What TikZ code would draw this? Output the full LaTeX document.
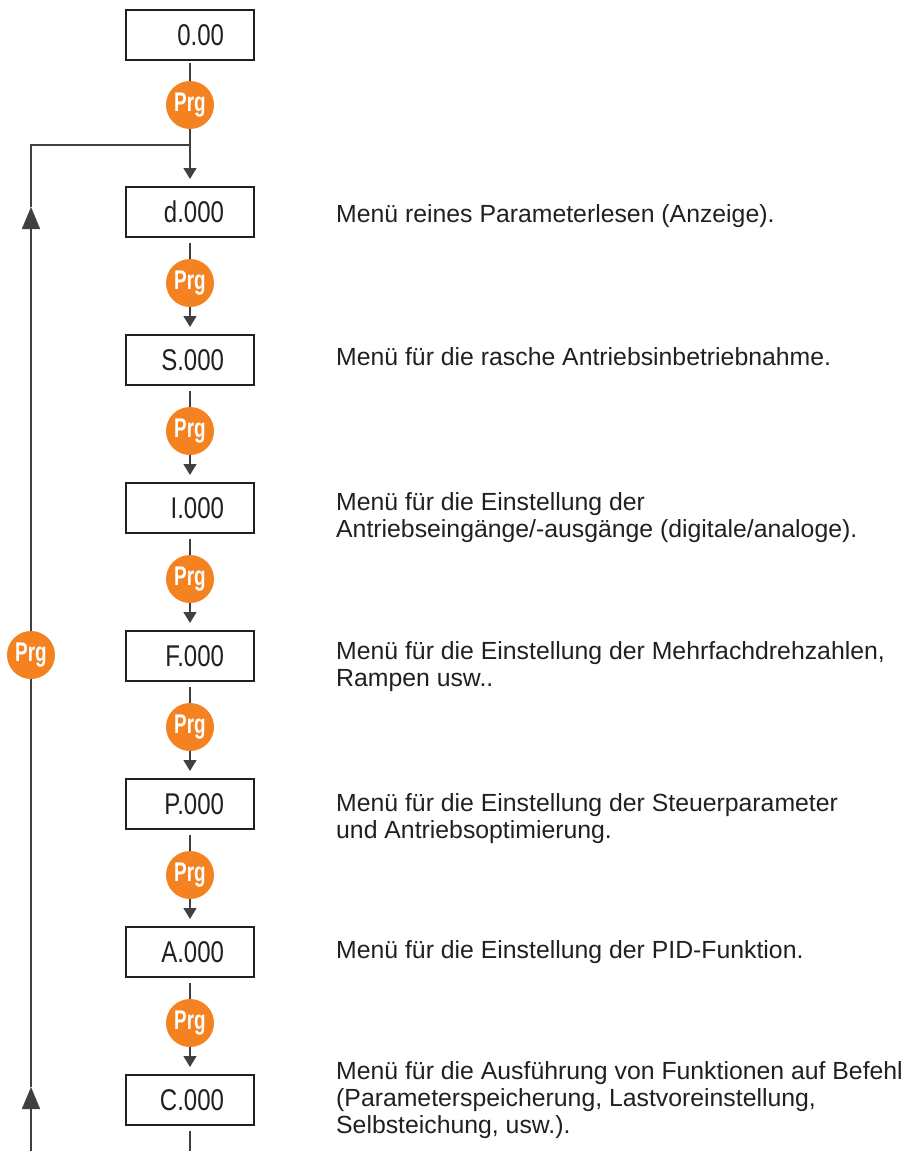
\documentclass[tikz,border=0pt]{standalone}
\usepackage{fontspec}
\setmainfont{Liberation Sans}
\newfontfamily\lcdfont[FakeStretch=0.8]{Liberation Sans}
\newfontfamily\prgfont[FakeStretch=0.7]{Liberation Sans}
\usetikzlibrary{arrows.meta, positioning}
\definecolor{prgorange}{RGB}{245,130,32}
\definecolor{ink}{RGB}{35,31,32}

\begin{document}
\begin{tikzpicture}[x=1pt, y=-1pt, every node/.style={text=ink},
  box/.style={draw=ink, line width=1.3pt, outer sep=0pt, minimum height=50pt, text width=68pt, inner xsep=30pt, inner ysep=0pt, align=right, font=\lcdfont\fontsize{30}{30}\selectfont},
  prg/.style={circle, fill=prgorange, outer sep=0pt, minimum size=48pt, inner sep=0pt, text=white, font=\prgfont\bfseries\fontsize{27}{27}\selectfont},
  link/.style={draw=black!75, line width=1.5pt},
  down/.style={link, -{Triangle[width=13pt, length=11pt]}, shorten >=8pt},
  up/.style={link, -{Triangle[width=18pt, length=22pt]}},
  desc/.style={inner sep=0pt, align=left, font=\fontsize{24.8}{27}\selectfont}]
  \useasboundingbox (0,0) rectangle (904,1151);

  % menu chain
  \node[box] (z) at (190,35) {0.00};
  \node[prg, below=21pt of z] (p0) {Prg};
  \node[box] (d) at (190,212) {d.000};
  \node[prg, below=22pt of d] (p1) {Prg};
  \node[box, below=98pt of d] (s) {S.000};
  \node[prg, below=22pt of s] (p2) {Prg};
  \node[box, below=98pt of s] (i) {I.000};
  \node[prg, below=22pt of i] (p3) {Prg};
  \node[box, below=98pt of i] (f) {F.000};
  \node[prg, below=22pt of f] (p4) {Prg};
  \node[box, below=98pt of f] (p) {P.000};
  \node[prg, below=22pt of p] (p5) {Prg};
  \node[box, below=98pt of p] (a) {A.000};
  \node[prg, below=22pt of a] (p6) {Prg};
  \node[box, below=98pt of a] (c) {C.000};

  % descriptions (base = last line)
  \node[desc, base right=82pt of d] (td) {Menü reines Parameterlesen (Anzeige).};
  \node[desc, base right=82pt of s, yshift=5pt] (ts) {Menü für die rasche Antriebsinbetriebnahme.};
  \node[desc, base right=82pt of i, yshift=-19pt] (ti) {Menü für die Einstellung der\\Antriebseingänge/-ausgänge (digitale/analoge).};
  \node[desc, base right=82pt of f, yshift=-20pt] (tf) {Menü für die Einstellung der Mehrfachdrehzahlen,\\Rampen usw..};
  \node[desc, base right=82pt of p, yshift=-24pt] (tp) {Menü für die Einstellung der Steuerparameter\\und Antriebsoptimierung.};
  \node[desc, base right=82pt of a, yshift=4pt] (ta) {Menü für die Einstellung der PID-Funktion.};
  \node[desc, base right=82pt of c, yshift=-23pt] (tc) {Menü für die Ausführung von Funktionen auf Befehl\\(Parameterspeicherung, Lastvoreinstellung,\\Selbsteichung, usw.).};

  % return loop
  \node[prg] (pl) at (31,655) {Prg};
  \coordinate (jn) at (190,145);
  \coordinate (cn) at (31,145);
  \coordinate (ua) at (31,207);
  \coordinate (ub) at (31,1087);
  \coordinate (bl) at (31,1151);
  \coordinate (cb) at (190,1151);

  \draw[link, shorten <=3pt] (z) -- (p0);
  \draw[down] (p0) -- (d);
  \draw[link, shorten <=6pt] (d) -- (p1);
  \draw[down] (p1) -- (s);
  \draw[link, shorten <=6pt] (s) -- (p2);
  \draw[down] (p2) -- (i);
  \draw[link, shorten <=6pt] (i) -- (p3);
  \draw[down] (p3) -- (f);
  \draw[link, shorten <=6pt] (f) -- (p4);
  \draw[down] (p4) -- (p);
  \draw[link, shorten <=6pt] (p) -- (p5);
  \draw[down] (p5) -- (a);
  \draw[link, shorten <=6pt] (a) -- (p6);
  \draw[down] (p6) -- (c);
  \draw[link, shorten <=6pt] (c) -- (cb);

  \draw[up] (bl) -- (ub);
  \draw[link] (ub) -- (pl);
  \draw[up] (pl) -- (ua);
  \draw[link] (ua) -- (cn) -- (jn);
\end{tikzpicture}
\end{document}
